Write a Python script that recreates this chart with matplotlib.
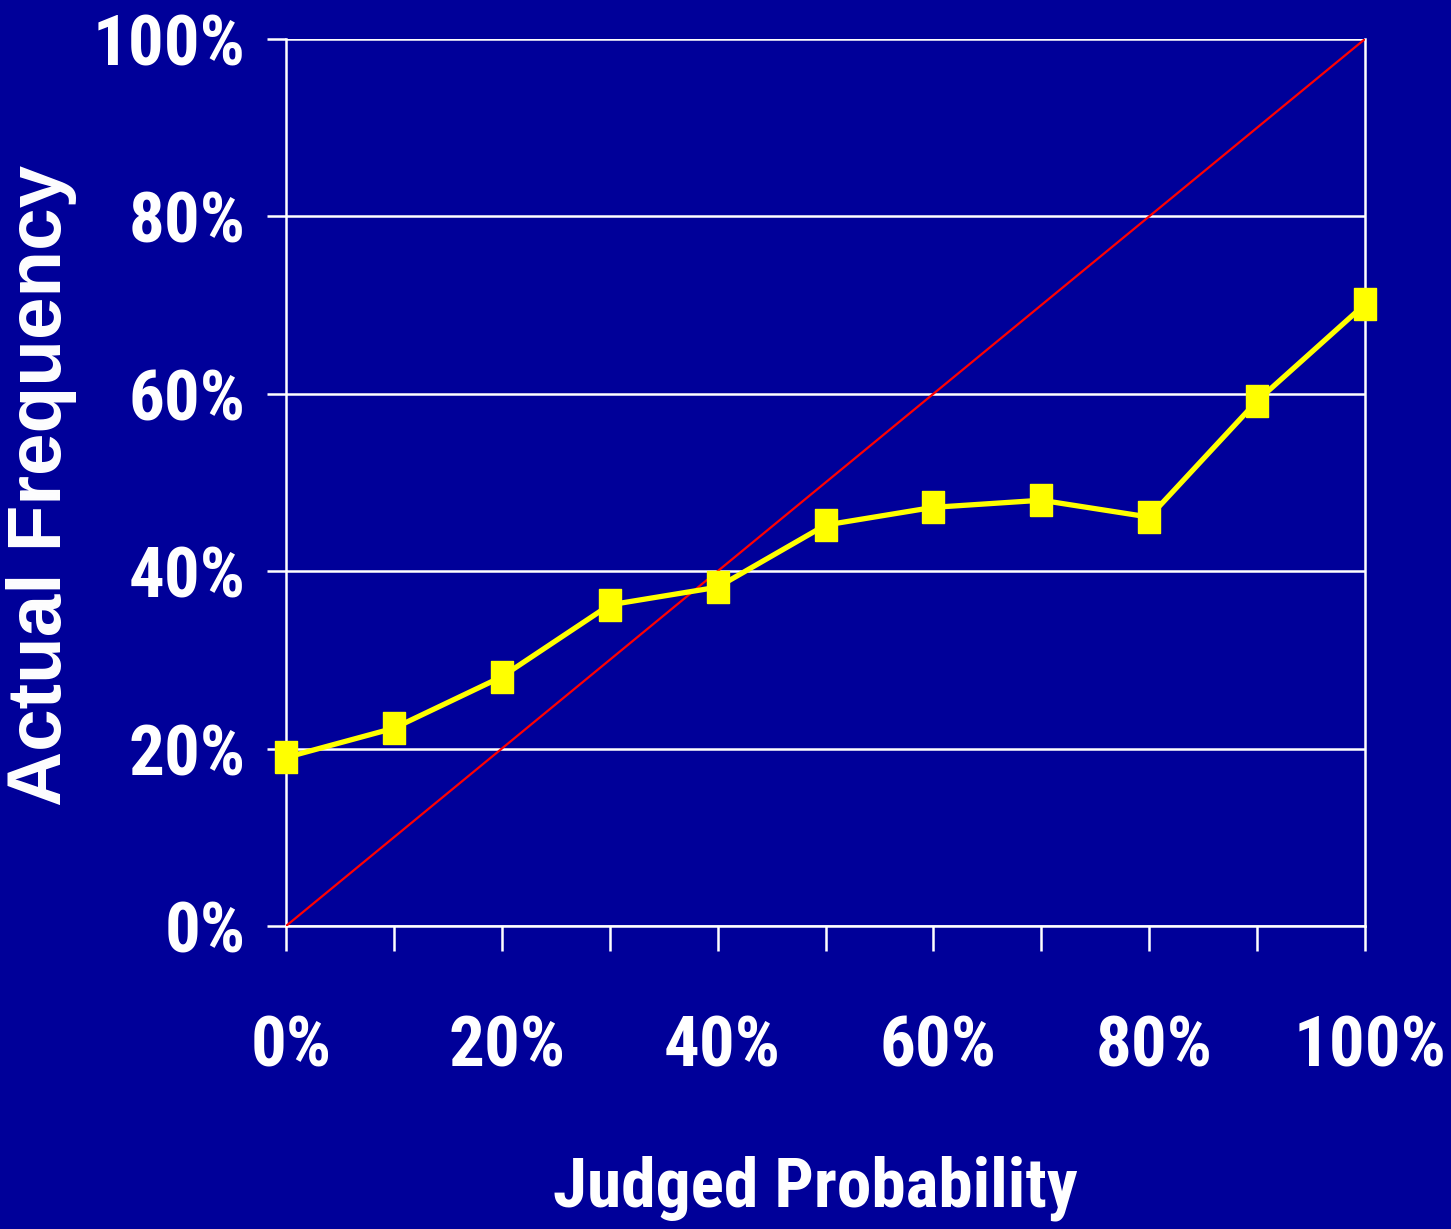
import matplotlib.pyplot as plt
import matplotlib.transforms as mtransforms
from matplotlib.ticker import FuncFormatter, MultipleLocator

# Calibration data
judged = [0, 10, 20, 30, 40, 50, 60, 70, 80, 90, 100]
actual = [19, 22.3, 28.1, 36.2, 38.2, 45.2, 47.2, 48.0, 46.1, 59.2, 70.1]
perfect = [0, 100]

bg = "#000099"
narrow = ["Liberation Sans Narrow", "Roboto Condensed", "Fira Sans Condensed", "DejaVu Sans"]

fig = plt.figure(figsize=(14.51, 12.29), dpi=100, facecolor=bg)
ax = fig.add_axes([286 / 1451, 1 - 926 / 1229, (1365 - 286) / 1451, (926 - 39) / 1229])
ax.set_facecolor(bg)

# perfect calibration line
ax.plot(perfect, perfect, color="red", lw=1.6, zorder=3)

# box marker, taller than wide
box = [(-0.36, -0.5), (0.36, -0.5), (0.36, 0.5), (-0.36, 0.5), (-0.36, -0.5)]
ax.plot(judged, actual, color="yellow", lw=3.8, marker=box, markersize=23,
        markerfacecolor="yellow", markeredgecolor="yellow", zorder=4, clip_on=False)

ax.set_xlim(0, 100)
ax.set_ylim(0, 100)

ax.yaxis.set_major_locator(MultipleLocator(20))
ax.xaxis.set_major_locator(MultipleLocator(10))
ax.grid(axis="y", color="white", lw=1.8, zorder=1)
ax.set_axisbelow(True)

pct = FuncFormatter(lambda v, p: "%d%%" % v)
ax.yaxis.set_major_formatter(pct)
ax.xaxis.set_major_formatter(FuncFormatter(lambda v, p: "%d%%" % v if int(round(v)) % 20 == 0 else ""))

for side in ["left", "bottom", "right"]:
    ax.spines[side].set_color("white")
    ax.spines[side].set_linewidth(1.8)
ax.spines["top"].set_visible(False)

ax.tick_params(axis="y", colors="white", length=14, width=1.8, pad=15)
ax.tick_params(axis="x", colors="white", length=18, width=1.8, pad=45)
shift = mtransforms.ScaledTranslation(5 / 100, 0, fig.dpi_scale_trans)
for lab in ax.get_xticklabels():
    lab.set_transform(lab.get_transform() + shift)
for lab in ax.get_xticklabels() + ax.get_yticklabels():
    lab.set_fontfamily(narrow)
    lab.set_fontweight("bold")
    lab.set_fontsize(51)
    lab.set_color("white")

fig.text(815 / 1451, 1 - 1188 / 1229, "Judged Probability", color="white",
         fontsize=50, fontweight="bold", family=narrow, ha="center", va="center")
fig.text(42 / 1451, 1 - 485 / 1229, "Actual Frequency", color="white",
         fontsize=55, fontweight="bold", family=["Liberation Sans", "Arimo", "DejaVu Sans"],
         rotation=90, ha="center", va="center")

fig.savefig("out.png", dpi=100, facecolor=bg)
